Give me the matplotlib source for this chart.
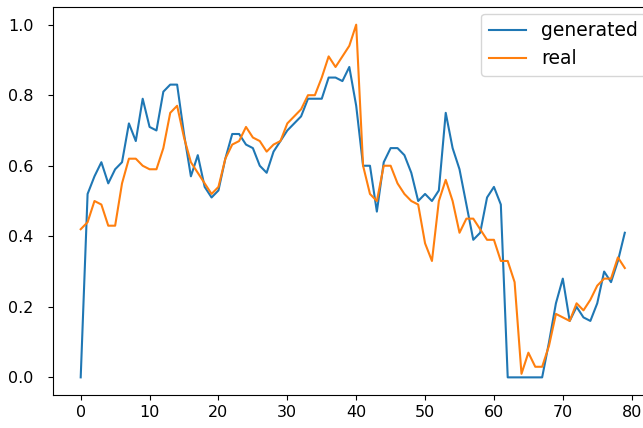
import numpy as np
import matplotlib
matplotlib.use('Agg')
import matplotlib.pyplot as plt

# generated series (blue)
generated = [0.00, 0.52, 0.57, 0.61, 0.55, 0.59, 0.61, 0.72, 0.67, 0.79,
             0.71, 0.70, 0.81, 0.83, 0.83, 0.69, 0.57, 0.63, 0.54, 0.51,
             0.53, 0.62, 0.69, 0.69, 0.66, 0.65, 0.60, 0.58, 0.64, 0.67,
             0.70, 0.72, 0.74, 0.79, 0.79, 0.79, 0.85, 0.85, 0.84, 0.88,
             0.77, 0.60, 0.60, 0.47, 0.61, 0.65, 0.65, 0.63, 0.58, 0.50,
             0.52, 0.50, 0.53, 0.75, 0.65, 0.59, 0.49, 0.39, 0.41, 0.51,
             0.54, 0.49, 0.00, 0.00, 0.00, 0.00, 0.00, 0.00, 0.10, 0.21,
             0.28, 0.16, 0.20, 0.17, 0.16, 0.21, 0.30, 0.27, 0.33, 0.41]

# real series (orange)
real = [0.42, 0.44, 0.50, 0.49, 0.43, 0.43, 0.55, 0.62, 0.62, 0.60,
        0.59, 0.59, 0.65, 0.75, 0.77, 0.68, 0.61, 0.58, 0.55, 0.52,
        0.54, 0.62, 0.66, 0.67, 0.71, 0.68, 0.67, 0.64, 0.66, 0.67,
        0.72, 0.74, 0.76, 0.80, 0.80, 0.85, 0.91, 0.88, 0.91, 0.94,
        1.00, 0.60, 0.52, 0.50, 0.60, 0.60, 0.55, 0.52, 0.50, 0.49,
        0.38, 0.33, 0.50, 0.56, 0.50, 0.41, 0.45, 0.45, 0.42, 0.39,
        0.39, 0.33, 0.33, 0.27, 0.01, 0.07, 0.03, 0.03, 0.09, 0.18,
        0.17, 0.16, 0.21, 0.19, 0.22, 0.26, 0.28, 0.28, 0.34, 0.31]

fig = plt.figure(figsize=(6.43, 4.28), dpi=100)
# axes run a little past the right edge, like the cropped original
ax = fig.add_axes([0.0832, 0.0771, 0.9308, 0.9065])

ax.plot(generated, label='generated')
ax.plot(real, label='real')
ax.legend(loc='upper right', fontsize=13.5, borderaxespad=0.35)

ax.tick_params(labelsize=11.5)
ax.tick_params(axis='y', pad=11)

fig.savefig('out.png', dpi=100)
